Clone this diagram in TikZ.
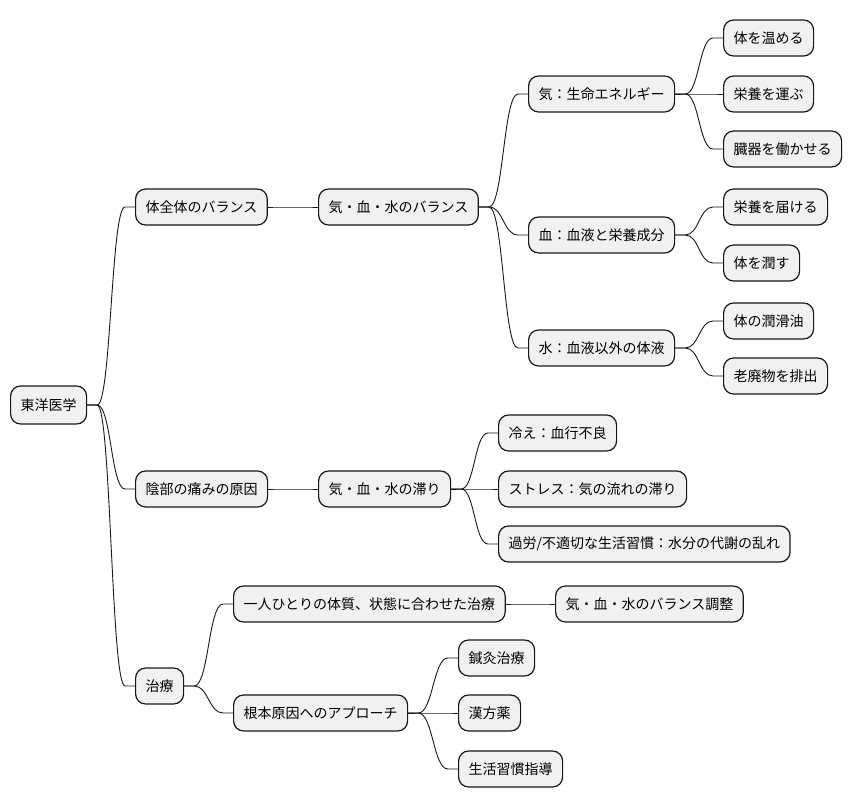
\documentclass[tikz,border=0pt]{standalone}
\usepackage{fontspec}
\newfontfamily\jp{Noto Sans CJK JP}
\usetikzlibrary{calc}
\definecolor{mmfill}{HTML}{F1F1F1}
\definecolor{mmdraw}{HTML}{181818}
\newcommand\mmlink[2]{\draw[mmline] let \p1=($(#1.east)+(10,0)$), \p2=($(#2.west)+(-10,0)$) in (#1.east) -- (\p1) .. controls (0.5*\x1+0.5*\x2,\y1) and (0.5*\x1+0.5*\x2,\y2) .. (\p2) -- (#2.west);}
\begin{document}
\begin{tikzpicture}[x=1pt,y=-1pt,
  mm/.style={draw=mmdraw, line width=1.2pt, fill=mmfill, rounded corners=10pt, minimum height=36pt, inner xsep=10pt, inner ysep=0pt, anchor=west, font=\jp\fontsize{14}{16}\selectfont, text=black},
  mmline/.style={draw=mmdraw, line width=0.9pt}]
\useasboundingbox (0,0) rectangle (852,809);
% nodes
\node[mm, minimum height=38pt] (r) at (10,405) {東洋医学};
\node[mm] (a) at (135,207) {体全体のバランス};
\node[mm] (b) at (135,489) {陰部の痛みの原因};
\node[mm] (c) at (135,686) {治療};
\node[mm] (a1) at (318,207) {気・血・水のバランス};
\node[mm] (q) at (528,94) {気：生命エネルギー};
\node[mm] (k) at (528,235) {血：血液と栄養成分};
\node[mm] (s) at (528,348) {水：血液以外の体液};
\node[mm] (q1) at (723,38) {体を温める};
\node[mm] (q2) at (723,94) {栄養を運ぶ};
\node[mm] (q3) at (723,149) {臓器を働かせる};
\node[mm] (k1) at (723,207) {栄養を届ける};
\node[mm] (k2) at (723,263) {体を潤す};
\node[mm] (s1) at (723,321) {体の潤滑油};
\node[mm] (s2) at (723,376) {老廃物を排出};
\node[mm] (b1) at (318,489) {気・血・水の滞り};
\node[mm] (b11) at (498,433) {冷え：血行不良};
\node[mm] (b12) at (498,489) {ストレス：気の流れの滞り};
\node[mm] (b13) at (498,544) {過労/不適切な生活習慣：水分の代謝の乱れ};
\node[mm] (c1) at (233,604) {一人ひとりの体質、状態に合わせた治療};
\node[mm] (c11) at (555,604) {気・血・水のバランス調整};
\node[mm] (c2) at (233,713) {根本原因へのアプローチ};
\node[mm] (c21) at (458,658) {鍼灸治療};
\node[mm] (c22) at (458,713) {漢方薬};
\node[mm] (c23) at (458,769) {生活習慣指導};
% links
\mmlink{r}{a}
\mmlink{r}{b}
\mmlink{r}{c}
\mmlink{a}{a1}
\mmlink{a1}{q}
\mmlink{a1}{k}
\mmlink{a1}{s}
\mmlink{q}{q1}
\mmlink{q}{q2}
\mmlink{q}{q3}
\mmlink{k}{k1}
\mmlink{k}{k2}
\mmlink{s}{s1}
\mmlink{s}{s2}
\mmlink{b}{b1}
\mmlink{b1}{b11}
\mmlink{b1}{b12}
\mmlink{b1}{b13}
\mmlink{c}{c1}
\mmlink{c1}{c11}
\mmlink{c}{c2}
\mmlink{c2}{c21}
\mmlink{c2}{c22}
\mmlink{c2}{c23}
\end{tikzpicture}
\end{document}
